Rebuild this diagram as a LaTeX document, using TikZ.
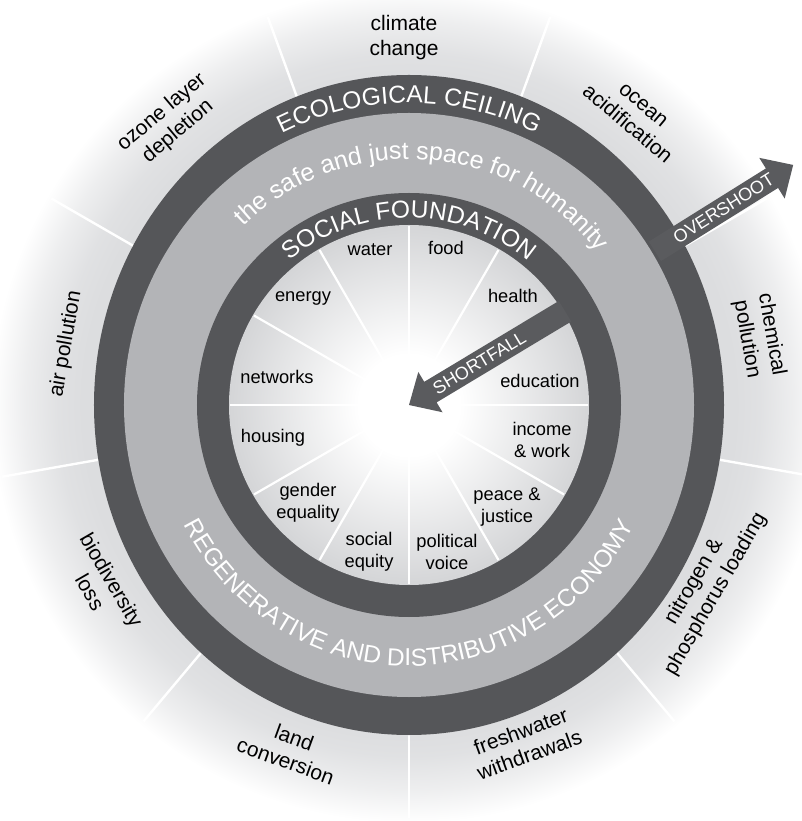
\documentclass[tikz,border=0pt]{standalone}
\usepackage{fontspec}
\setmainfont{Liberation Sans}
\usetikzlibrary{decorations.text}

% palette
\definecolor{ringdark}{RGB}{85,86,89}
\definecolor{arrowdark}{RGB}{90,91,94}
\definecolor{bandgray}{RGB}{179,180,183}
\definecolor{halogray}{RGB}{220,221,223}
\definecolor{diskgray}{RGB}{212,213,215}

% soft halo behind the doughnut and the white-centred inner disk
\pgfdeclareradialshading{haloshade}{\pgfpoint{0bp}{0bp}}{%
  color(0bp)=(halogray); color(19.5bp)=(halogray); color(21bp)=(halogray!88!white);
  color(23bp)=(halogray!50!white); color(24.5bp)=(halogray!12!white);
  color(25bp)=(white); color(50bp)=(white)}
\pgfdeclareradialshading{diskshade}{\pgfpoint{0bp}{0bp}}{%
  color(0bp)=(white); color(7bp)=(white); color(25bp)=(diskgray); color(50bp)=(diskgray)}

\newcommand\dnRing{\fontsize{24.5}{28}\selectfont}
\newcommand\dnSafe{\fontsize{25}{28}\selectfont}
\newcommand\dnOuter{\fontsize{21}{25}\selectfont}
\newcommand\dnInner{\fontsize{18.3}{22.5}\selectfont}
\newcommand\dnArrow{\fontsize{18}{20}\selectfont}

\tikzset{
  ringtext/.style={decorate, decoration={text along path, text align=center,
      text color=white, text={#1}}},
  outerlabel/.style={font=\dnOuter, align=center, text=black, inner sep=0pt},
  innerlabel/.style={font=\dnInner, align=center, text=black, inner sep=0pt},
  arrowlabel/.style={font=\dnArrow, text=white, inner sep=0pt, transform shape},
  spoke/.style={white, line width=2.4pt},
}

\begin{document}
\begin{tikzpicture}[x=1pt, y=1pt]
\path[use as bounding box] (-409,-416) rectangle (392,405);
\coordinate (hub) at (0,0);

% halo and outer sector dividers
\shade[shading=haloshade] (hub) circle[radius=418pt];
\foreach \a in {30,70,...,350}
  \draw[spoke] (\a:300pt) -- (\a:413pt);

% the doughnut rings
\fill[ringdark] (hub) ellipse[x radius=315pt, y radius=330pt];
\fill[bandgray] (hub) ellipse[x radius=285pt, y radius=292pt];
\fill[ringdark] (hub) circle[radius=212pt];
\shade[shading=diskshade] (hub) circle[radius=180pt];
\foreach \a in {0,30,...,330}
  \draw[spoke, line width=2.2pt] (hub) -- (\a:179pt);

% curved ring titles
\path[ringtext={|\dnRing|ECOLOGICAL CEILING}]
  (180:291pt and 302pt) arc[start angle=180, end angle=0, x radius=291pt, y radius=302pt];
\path[ringtext={|\dnSafe|the safe and just space for humanity}]
  (176:241pt and 246pt) arc[start angle=176, end angle=-4, x radius=241pt, y radius=246pt];
\path[ringtext={|\dnRing|SOCIAL FOUNDATION}]
  (180:187pt) arc[start angle=180, end angle=0, radius=187pt];
\path[ringtext={|\dnRing|REGENERATIVE AND DISTRIBUTIVE ECONOMY}]
  (180:253pt and 261pt) arc[start angle=180, end angle=360, x radius=253pt, y radius=261pt];

% ecological ceiling dimensions
\node[outerlabel] (cc)  at (-5,367)    {climate\\change};
\node[outerlabel, rotate=-40] (oa) at (226,290) {ocean\\acidification};
\node[outerlabel, rotate=-80] (cp) at (350,68)  {chemical\\pollution};
\node[outerlabel, rotate=60]  (np) at (296,-183) {nitrogen \&\\phosphorus loading};
\node[outerlabel, rotate=20]  (fw) at (116,-338) {freshwater\\withdrawals};
\node[outerlabel, rotate=-20] (lc) at (-119,-344) {land\\conversion};
\node[outerlabel, rotate=-60] (bl) at (-308,-181) {biodiversity\\loss};
\node[outerlabel, rotate=80]  (ap) at (-343,61)  {air pollution};
\node[outerlabel, rotate=40]  (oz) at (-239,283) {ozone layer\\depletion};

% social foundation dimensions
\node[innerlabel] (water)   at (-39,155)  {water};
\node[innerlabel] (food)    at (37,157)   {food};
\node[innerlabel] (energy)  at (-106,107) {energy};
\node[innerlabel] (health)  at (104,109)  {health};
\node[innerlabel] (netw)    at (-132,28)  {networks};
\node[innerlabel] (educ)    at (131,24)   {education};
\node[innerlabel] (housing) at (-136,-33) {housing};
\node[innerlabel] (income)  at (133,-35)  {income\\\& work};
\node[innerlabel] (gender)  at (-101,-98) {gender\\equality};
\node[innerlabel] (peace)   at (98,-102)  {peace \&\\justice};
\node[innerlabel] (social)  at (-40,-147) {social\\equity};
\node[innerlabel] (politic) at (38,-147)  {political\\voice};

% shortfall arrow pointing into the hub
\begin{scope}[rotate=31]
  \fill[arrowdark] (hub) -- (25,23.5) -- (25,12) -- (182,12) -- (182,-12)
    -- (25,-12) -- (25,-23.5) -- cycle;
  \node[arrowlabel] (sf) at (82,0) {SHORTFALL};
\end{scope}

% overshoot arrow leaving the ceiling
\begin{scope}[rotate=32]
  \fill[arrowdark] (290,11.5) -- (428,11.5) -- (428,24) -- (453,0) -- (428,-24)
    -- (428,-11.5) -- (290,-11.5) -- cycle;
  \node[arrowlabel] (os) at (371,0) {OVERSHOOT};
\end{scope}
\end{tikzpicture}
\end{document}
